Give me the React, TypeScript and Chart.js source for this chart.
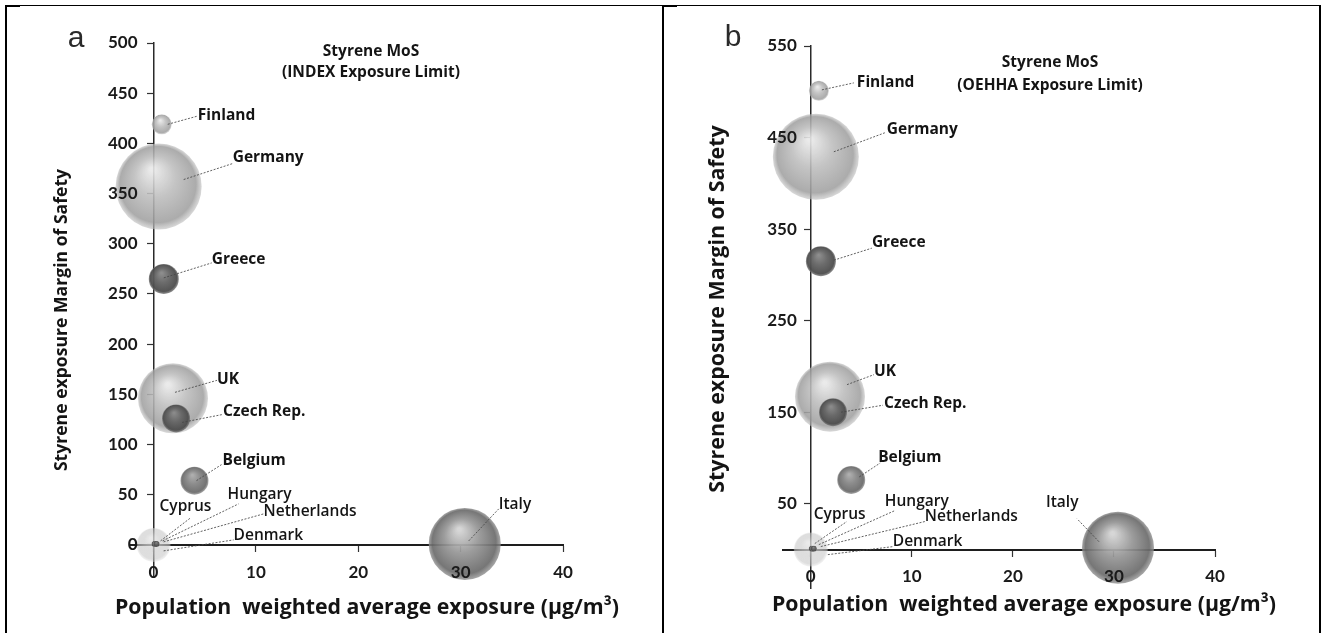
import React, { useEffect, useRef } from "react";
import { Chart, registerables } from "chart.js";

Chart.register(...registerables);

// ---- data -------------------------------------------------------------
const countries = [
  "Finland", "Germany", "Greece", "UK", "Czech Rep.", "Belgium", "Italy",
  "Cyprus", "Hungary", "Netherlands", "Denmark",
];
// population weighted average exposure (µg/m³)
const exposure = [0.8, 0.5, 1.0, 1.9, 2.2, 4.0, 30.4, 0.0, 0.1, 0.2, 0.3];
// bubble size (population weight)
const bubbleSize = [10, 43, 15, 35, 14, 14, 36, 17, 3, 2, 3];
// margin of safety against the INDEX limit
const mosIndex = [419, 357, 265, 146, 126, 64, 1, 0, 1, 0, 1];
// margin of safety against the OEHHA limit
const mosOehha = [501, 429, 315, 167, 150, 76, 2, 0, 1, 0, 1];

const xTicks = [0, 10, 20, 30, 40];
const yTicksIndex = [0, 50, 100, 150, 200, 250, 300, 350, 400, 450, 500];
const yTicksOehha = [50, 150, 250, 350, 450, 550];

// ---- styles -----------------------------------------------------------
const tone = ["light", "light", "dark", "light", "dark", "mid", "italy", "pale", "dark", "dark", "dark"];
const labelWeight = ["bold", "bold", "bold", "bold", "bold", "bold", "600", "600", "600", "600", "600"];

const SHADES: Record<string, { hi: string; mid: string; edge: string; rim: string }> = {
  light: { hi: "rgba(232,232,232,0.9)", mid: "rgba(188,188,188,0.88)", edge: "rgba(160,160,160,0.88)", rim: "rgba(190,190,190,0.6)" },
  pale: { hi: "rgba(228,228,228,0.75)", mid: "rgba(208,208,208,0.7)", edge: "rgba(200,200,200,0.6)", rim: "rgba(222,222,222,0.4)" },
  dark: { hi: "rgba(135,135,135,0.95)", mid: "rgba(100,100,100,0.95)", edge: "rgba(76,76,76,0.95)", rim: "rgba(115,115,115,0.8)" },
  mid: { hi: "rgba(170,170,170,0.95)", mid: "rgba(134,134,134,0.95)", edge: "rgba(108,108,108,0.95)", rim: "rgba(145,145,145,0.8)" },
  italy: { hi: "rgba(212,212,212,0.95)", mid: "rgba(150,150,150,0.93)", edge: "rgba(108,108,108,0.93)", rim: "rgba(145,145,145,0.8)" },
};

// leader line start (sx,sy), end (ex,ey) and label anchor (tx,ty), px from the bubble centre
type Leader = [number, number, number, number, number, number];
const leadersIndex: Leader[] = [
  [6, 0, 35, -8, 36, -9],
  [25, -7, 74, -23, 74, -29],
  [0, -1, 48, -16, 48, -19],
  [2, -6, 44, -18, 44, -19],
  [6, 4, 47, -4, 47, -7],
  [2, 0, 27, -16, 28, -20],
  [4, -3, 34, -35, 34, -39],
  [7, -4, 37, -27, 6, -38],
  [8, -3, 84, -40, 73, -49],
  [8, -3, 108, -31, 108, -33],
  [7, 7, 77, -4, 77, -8],
];
const leadersOehha: Leader[] = [
  [3, -1, 35, -8, 38, -8],
  [18, -5, 69, -24, 71, -27],
  [13, -1, 51, -13, 51, -19],
  [17, -12, 44, -22, 44, -25],
  [8, 0, 50, -7, 51, -9],
  [8, -3, 29, -17, 27, -22],
  [-19, -6, -41, -29, -72, -45],
  [4, -6, 36, -28, 3, -35],
  [7, -4, 83, -38, 73, -47],
  [8, -3, 112, -28, 112, -33],
  [14, 6, 79, -2, 79, -7],
];

const TICK_FONT = "Lato, 'Open Sans', sans-serif";
const TEXT_FONT = "'Open Sans', Lato, sans-serif";
const X_TITLE = "Population  weighted average exposure (µg/m³)";
const Y_TITLE = "Styrene exposure Margin of Safety";

type PanelSpec = {
  left: number;
  letter: string;
  letterPos: [number, number];
  title: [string, string];
  titleX: number;
  titleY: [number, number];
  mos: number[];
  yTicks: number[];
  yMin: number;
  yMax: number;
  xMin: number;
  padding: { left: number; right: number; top: number; bottom: number };
  leaders: Leader[];
  yLabelGap: number;
  yTitlePos: [number, number];
  yTitleSize: number;
  xTitlePos: [number, number];
};

const panels: PanelSpec[] = [
  {
    left: 0,
    letter: "a",
    letterPos: [76, 39],
    title: ["Styrene MoS", "(INDEX Exposure Limit)"],
    titleX: 371,
    titleY: [52, 73],
    mos: mosIndex,
    yTicks: yTicksIndex,
    yMin: -32,
    yMax: 500,
    xMin: -2.3,
    padding: { left: 130, right: 98, top: 40, bottom: 56 },
    leaders: leadersIndex,
    yLabelGap: 16,
    yTitlePos: [62, 320],
    yTitleSize: 17.6,
    xTitlePos: [367, 608],
  },
  {
    left: 661,
    letter: "b",
    letterPos: [72, 38],
    title: ["Styrene MoS", "(OEHHA Exposure Limit)"],
    titleX: 389,
    titleY: [63, 86],
    mos: mosOehha,
    yTicks: yTicksOehha,
    yMin: -42,
    yMax: 550,
    xMin: -2.75,
    padding: { left: 122, right: 107, top: 46, bottom: 45 },
    leaders: leadersOehha,
    yLabelGap: 14,
    yTitlePos: [57, 309],
    yTitleSize: 21.4,
    xTitlePos: [363, 605],
  },
];

// shaded sphere fill for each bubble
function sphereFill(c: any) {
  const chart = c.chart;
  const raw = c.raw;
  const shade = SHADES[tone[c.dataIndex] || "light"];
  const sx = chart && chart.scales ? chart.scales.x : null;
  const sy = chart && chart.scales ? chart.scales.y : null;
  if (!raw || !sx || !sy) return shade.mid;
  const cx = sx.getPixelForValue(raw.x);
  const cy = sy.getPixelForValue(raw.y);
  const r = Math.max(Number(raw.r) || 1, 1);
  if (!Number.isFinite(cx) || !Number.isFinite(cy)) return shade.mid;
  const g = chart.ctx.createRadialGradient(cx - r * 0.15, cy - r * 0.4, r * 0.05, cx, cy, r);
  g.addColorStop(0, shade.hi);
  g.addColorStop(0.45, shade.mid);
  g.addColorStop(0.88, shade.edge);
  g.addColorStop(1, shade.rim);
  return g;
}

function annotations(spec: PanelSpec) {
  return {
    id: "annotations",
    afterDraw(chart: any) {
      const { ctx, scales } = chart;
      ctx.save();
      // y tick labels, right-aligned beside the crossing axis
      const axisX = scales.x.getPixelForValue(0);
      ctx.fillStyle = "#1a1a1a";
      ctx.font = `bold 17px ${TICK_FONT}`;
      ctx.textAlign = "right";
      ctx.textBaseline = "middle";
      scales.y.ticks.forEach((t: any) => {
        ctx.fillText(String(t.value), axisX - spec.yLabelGap, scales.y.getPixelForValue(t.value));
      });
      // leader lines and country labels
      countries.forEach((name, i) => {
        const cx = scales.x.getPixelForValue(exposure[i]);
        const cy = scales.y.getPixelForValue(spec.mos[i]);
        const [sx, sy, ex, ey, tx, ty] = spec.leaders[i];
        ctx.beginPath();
        ctx.setLineDash([2, 1.5]);
        ctx.lineWidth = 1;
        ctx.strokeStyle = "rgba(70,70,70,0.85)";
        ctx.moveTo(cx + sx, cy + sy);
        ctx.lineTo(cx + ex, cy + ey);
        ctx.stroke();
        ctx.setLineDash([]);
        ctx.fillStyle = "#141414";
        ctx.font = `${labelWeight[i]} 15.5px ${TEXT_FONT}`;
        ctx.textAlign = "left";
        ctx.textBaseline = "middle";
        ctx.fillText(name, cx + tx, cy + ty);
      });
      // panel title
      ctx.fillStyle = "#141414";
      ctx.textAlign = "center";
      ctx.font = `bold 15.5px ${TEXT_FONT}`;
      ctx.fillText(spec.title[0], spec.titleX, spec.titleY[0]);
      ctx.fillText(spec.title[1], spec.titleX, spec.titleY[1]);
      // panel letter
      ctx.font = `normal 30px 'Liberation Sans', sans-serif`;
      ctx.fillStyle = "#2a2a2a";
      ctx.fillText(spec.letter, spec.letterPos[0], spec.letterPos[1]);
      // x axis title
      ctx.fillStyle = "#141414";
      ctx.font = `bold 21.3px ${TEXT_FONT}`;
      ctx.fillText(X_TITLE, spec.xTitlePos[0], spec.xTitlePos[1]);
      // y axis title
      ctx.translate(spec.yTitlePos[0], spec.yTitlePos[1]);
      ctx.rotate(-Math.PI / 2);
      ctx.font = `bold ${spec.yTitleSize}px ${TEXT_FONT}`;
      ctx.fillText(Y_TITLE, 0, 0);
      ctx.restore();
    },
  };
}

function buildConfig(spec: PanelSpec): any {
  const tickFont = { family: TICK_FONT, size: 17, weight: "bold" as const };
  return {
    type: "bubble",
    data: {
      datasets: [
        {
          label: "MoS",
          data: countries.map((_, i) => ({ x: exposure[i], y: spec.mos[i], r: bubbleSize[i] })),
          backgroundColor: sphereFill,
          borderWidth: 0,
          clip: false,
        },
      ],
    },
    options: {
      animation: false,
      responsive: false,
      devicePixelRatio: 1,
      events: [],
      layout: { padding: spec.padding },
      plugins: { legend: { display: false }, tooltip: { enabled: false }, title: { display: false } },
      scales: {
        x: {
          type: "linear",
          min: spec.xMin,
          max: 40,
          position: { y: 0 },
          afterFit: (s: any) => {
            s.height = 0;
          },
          afterBuildTicks: (s: any) => {
            s.ticks = xTicks.map((v) => ({ value: v }));
          },
          grid: { display: true, drawOnChartArea: false, drawTicks: true, tickLength: 6, tickColor: "#333", tickWidth: 1.2 },
          border: { display: true, color: "#1e1e1e", width: 2 },
          ticks: { font: tickFont, color: "#1a1a1a", padding: 11, autoSkip: false, maxRotation: 0, z: 1 },
        },
        y: {
          type: "linear",
          min: spec.yMin,
          max: spec.yMax,
          position: { x: 0 },
          afterFit: (s: any) => {
            s.width = 0;
          },
          afterBuildTicks: (s: any) => {
            s.ticks = spec.yTicks.map((v) => ({ value: v }));
          },
          grid: { display: true, drawOnChartArea: false, drawTicks: true, tickLength: 6, tickColor: "#333", tickWidth: 1.2 },
          border: { display: true, color: "#2a2a2a", width: 1.5 },
          ticks: { display: false },
        },
      },
    },
    plugins: [annotations(spec)],
  };
}

function Panel({ spec }: { spec: PanelSpec }) {
  const ref = useRef<HTMLCanvasElement>(null);
  useEffect(() => {
    const chart = new Chart(ref.current as HTMLCanvasElement, buildConfig(spec));
    return () => chart.destroy();
  }, [spec]);
  return (
    <canvas
      ref={ref}
      width={661}
      height={633}
      style={{ position: "absolute", left: spec.left, top: 0, width: 661, height: 633 }}
    />
  );
}

const line = (left: number, top: number, width: number, height: number) => (
  <div style={{ position: "absolute", left, top, width, height, background: "#000" }} />
);

export default function App() {
  return (
    <div style={{ position: "absolute", left: 0, top: 0, width: 1322, height: 633, background: "#fff", overflow: "hidden" }}>
      {panels.map((p) => (
        <Panel key={p.letter} spec={p} />
      ))}
      {/* table frame */}
      {line(5, 5, 1315, 1)}
      {line(5, 5, 2, 628)}
      {line(662, 5, 2, 628)}
      {line(1319, 5, 2, 628)}
      {line(5, 5, 15, 2)}
      {line(662, 5, 15, 2)}
    </div>
  );
}
